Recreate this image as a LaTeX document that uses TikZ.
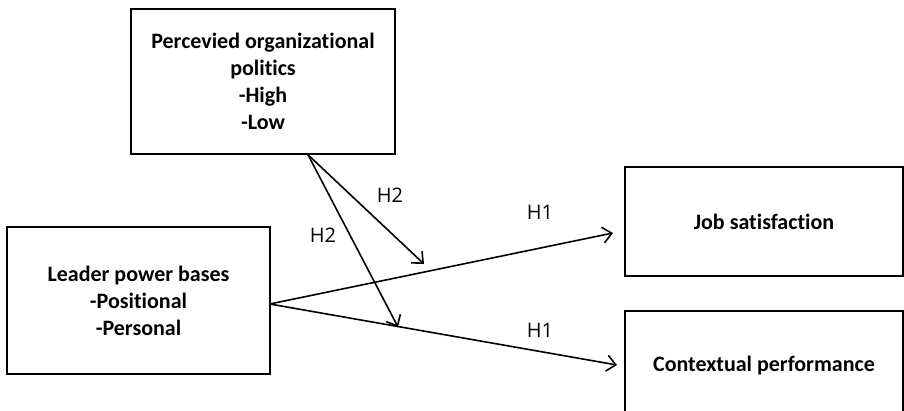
\documentclass[tikz,border=0pt]{standalone}
\usepackage{fontspec}
\setmainfont[Ligatures=NoCommon]{Carlito}
\newfontfamily\labfont{Open Sans}
\usetikzlibrary{arrows.meta,calc}
\begin{document}
\begin{tikzpicture}[x=1pt,y=-1pt,
  boxnode/.style={draw,line width=1.6pt,align=center,font=\fontsize{22}{27}\selectfont\bfseries,inner sep=0pt},
  conn/.style={line width=1.6pt,-{Straight Barb[length=9pt,width=16pt,line width=1.6pt]}},
  hlab/.style={font=\labfont\fontsize{20}{24}\selectfont}]
\useasboundingbox (0,0) rectangle (904,411);
\clip (0,0) rectangle (904,411);
\fill[white] (0,0) rectangle (904,411);
\node[boxnode,minimum width=264pt,minimum height=145pt] (pop) at (263,81.5)
  {Percevied organizational\\politics\\-High\\-Low};
\node[boxnode,minimum width=263pt,minimum height=147pt] (lpb) at (138.5,300.5)
  {Leader power bases\\-Positional\\-Personal};
\node[boxnode,minimum width=278pt,minimum height=109pt] (job) at (764,221.5)
  {Job satisfaction};
\node[boxnode,minimum width=278pt,minimum height=109pt] (ctx) at (764,365.5)
  {Contextual performance};
\coordinate (popout) at ($(pop.south)+(45,0)$);
\coordinate (lpbout) at ($(lpb.east)+(-1,3.5)$);
\coordinate (jobin) at (613,233);
\coordinate (ctxin) at (617,365);
\coordinate (mod1) at (424,264);
\coordinate (mod2) at (398,327);
\draw[conn] (lpbout) -- (jobin);
\draw[conn] (lpbout) -- (ctxin);
\draw[conn] (popout) -- (mod1);
\draw[conn] (popout) -- (mod2);
\node[hlab] (h2a) at (390,195) {H2};
\node[hlab] (h2b) at (323,235) {H2};
\node[hlab] (h1a) at (540,212) {H1};
\node[hlab] (h1b) at (540,330) {H1};
\end{tikzpicture}
\end{document}
